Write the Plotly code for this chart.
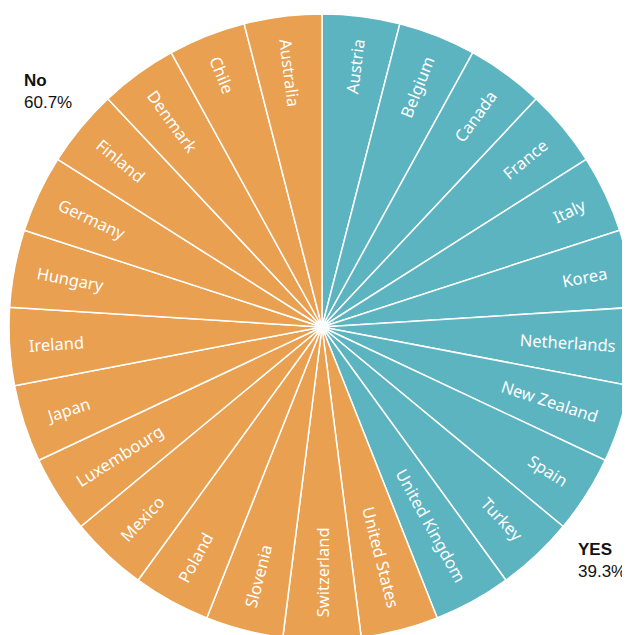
import plotly.graph_objects as go

yes_countries = ["Austria", "Belgium", "Canada", "France", "Italy", "Korea",
                 "Netherlands", "New Zealand", "Spain", "Turkey", "United Kingdom"]
no_countries = ["United States", "Switzerland", "Slovenia", "Poland", "Mexico",
                "Luxembourg", "Japan", "Ireland", "Hungary", "Germany", "Finland",
                "Denmark", "Chile", "Australia"]
slice_values = [1] * (len(yes_countries) + len(no_countries))
group_labels = ["No", "YES"]
group_shares = ["60.7%", "39.3%"]

YES_COLOR = "#5BB4C0"
NO_COLOR = "#E9A050"
FONT_SIZE = 16.5

labels = yes_countries + no_countries
colors = [YES_COLOR] * len(yes_countries) + [NO_COLOR] * len(no_countries)

# --- label styling: pad each label with no-break spaces on its inner side so
# plotly's radial placement sits the visible words near the rim (as in the
# reference) and keeps slices that straddle the horizontal axis radial.
_W = {"a": 561, "b": 615, "c": 480, "d": 615, "e": 564, "f": 344, "g": 615,
      "h": 618, "i": 258, "j": 258, "k": 524, "l": 258, "m": 935, "n": 618,
      "o": 605, "p": 615, "q": 615, "r": 413, "s": 479, "t": 361, "u": 618,
      "v": 508, "w": 786, "x": 529, "y": 510, "z": 470, " ": 260,
      "A": 639, "B": 648, "C": 632, "D": 729, "E": 556, "F": 519, "G": 728,
      "H": 738, "I": 279, "J": 267, "K": 613, "L": 524, "M": 907, "N": 754,
      "O": 779, "P": 602, "S": 549, "T": 553, "U": 728, "Y": 571, "Z": 556}
NBSP = "\u00a0"


def text_width(s):
    return sum(_W.get(ch, 580) for ch in s) * FONT_SIZE / 1000.0


total = sum(slice_values)
texts = []
cum = 0
for lab, v in zip(labels, slice_values):
    start = cum / total * 360
    stop = (cum + v) / total * 360
    mid = (start + stop) / 2
    cum += v
    straddles = (start < 90 < stop) or (start < 270 < stop)
    target = 163 if straddles else 148
    n = max(0, int(round((target - text_width(lab)) / (260 * FONT_SIZE / 1000.0))))
    pad = NBSP * n
    texts.append(pad + lab if mid < 180 else lab + pad)

W, H = 640, 650  # page places the figure at (8, 8); the overflow is cropped

fig = go.Figure(go.Pie(
    labels=labels,
    values=slice_values,
    text=texts,
    sort=False,
    direction="clockwise",
    rotation=0,
    domain=dict(x=[1 / W, 627 / W], y=[1 - 632 / H, 1 - 6 / H]),
    marker=dict(colors=colors, line=dict(color="white", width=1.5)),
    textinfo="text",
    textposition="inside",
    insidetextorientation="radial",
    insidetextfont=dict(family="Noto Sans", size=FONT_SIZE, color="white"),
    showlegend=False,
    hoverinfo="label",
))

fig.update_layout(
    width=W, height=H,
    margin=dict(l=0, r=0, t=0, b=0),
    paper_bgcolor="white",
    plot_bgcolor="white",
    annotations=[
        dict(x=14 / W, y=1 - 61 / H, xref="paper", yref="paper",
             text=f"<b>{group_labels[0]}</b><br>{group_shares[0]}",
             showarrow=False, align="left", xanchor="left", yanchor="top",
             font=dict(family="Liberation Sans", size=17, color="#111111")),
        dict(x=568 / W, y=1 - 530 / H, xref="paper", yref="paper",
             text=f"<b>{group_labels[1]}</b><br>{group_shares[1]}",
             showarrow=False, align="left", xanchor="left", yanchor="top",
             font=dict(family="Liberation Sans", size=17, color="#111111")),
    ],
)

fig.write_html("out.html")
